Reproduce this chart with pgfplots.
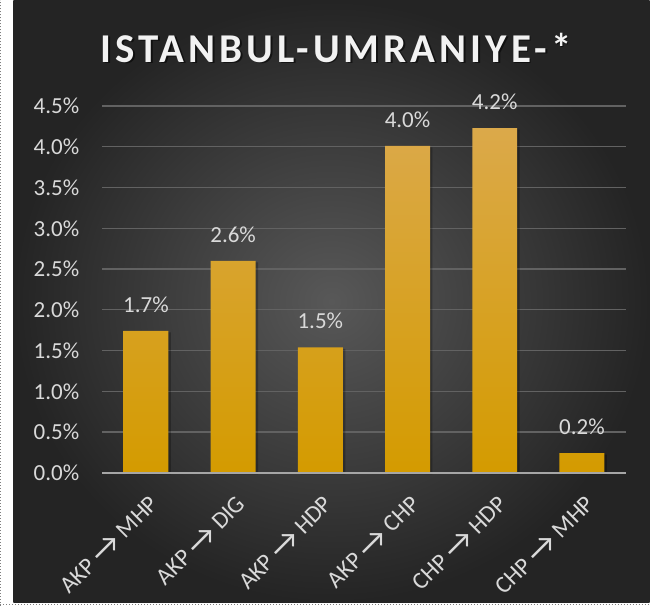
\documentclass[border=0pt]{standalone}
\usepackage{pgfplots}
\pgfplotsset{compat=1.18}
\usepackage{fontspec}
\setmainfont{Carlito}
\newfontfamily\titlefont[LetterSpace=10]{Carlito}
\newcommand{\arr}{\raisebox{-0.1em}{\scalebox{1.35}{→}}}
\definecolor{bgin}{RGB}{88,88,88}
\definecolor{bgout}{RGB}{36,36,36}
\definecolor{gridc}{RGB}{98,98,98}
\definecolor{basec}{RGB}{166,166,166}
\definecolor{txt}{RGB}{217,217,217}
\definecolor{bartop}{RGB}{219,169,74}
\definecolor{barbot}{RGB}{212,155,0}
\begin{document}
\begin{tikzpicture}[x=1pt,y=1pt]
\fill[white] (0,0) rectangle (650,606);
\shade[inner color=bgin, outer color=bgout] (13,3) rectangle (650,606);
\draw[gray, dotted, line width=1pt] (0.5,0)--(0.5,606);
\draw[gray, dotted, line width=1pt] (0,1.5)--(650,1.5);
\node[anchor=base, inner sep=0pt, text=black, opacity=0.55, font=\titlefont\bfseries\fontsize{41}{46}\selectfont] at (337.5,542.8) {ISTANBUL-UMRANIYE-*};
\node[anchor=base, inner sep=0pt, text=white!95!black, font=\titlefont\bfseries\fontsize{41}{46}\selectfont] at (336,544.3) {ISTANBUL-UMRANIYE-*};
\begin{axis}[
  at={(102pt,133pt)}, anchor=south west,
  scale only axis, width=524pt, height=367.3pt,
  xmin=-0.5, xmax=5.5, ymin=0, ymax=4.5,
  ytick={0,0.5,1,1.5,2,2.5,3,3.5,4,4.5},
  xtick={0,1,2,3,4,5},
  xticklabels={AKP \arr{} MHP, AKP \arr{} DIG, AKP \arr{} HDP, AKP \arr{} CHP, CHP \arr{} HDP, CHP \arr{} MHP},
  yticklabel={\pgfmathprintnumber{\tick}\%},
  /pgf/number format/.cd, fixed, fixed zerofill, precision=1, assume math mode=true, /pgfplots/.cd,
  axis line style={draw=none}, major tick length=0pt,
  ymajorgrids, grid style={gridc, line width=1.2pt},
  tick label style={font=\fontsize{23}{27}\selectfont, text=txt},
  yticklabel style={anchor=east, inner sep=0pt, xshift=-23pt},
  xticklabel style={font=\fontsize{24}{28}\selectfont, xshift=2pt, yshift=-21pt, rotate=45, anchor=north east, inner sep=0pt},
  clip=false,
]
\addplot[ybar, bar width=45pt, bar shift=0pt, draw=none, fill=black, fill opacity=0.25, xshift=2.5pt, yshift=-1.5pt]
  coordinates {(0,1.74) (1,2.60) (2,1.54) (3,4.01) (4,4.23) (5,0.24)};
\addplot[ybar, bar width=45pt, bar shift=0pt, draw=none, top color=bartop, bottom color=barbot,
  nodes near coords={\pgfmathprintnumber{\pgfplotspointmeta}\%},
  nodes near coords style={font=\fontsize{23}{27}\selectfont, text=txt, anchor=south, inner sep=0pt, yshift=18pt}]
  coordinates {(0,1.74) (1,2.60) (2,1.54) (3,4.01) (4,4.23) (5,0.24)};
\draw[basec, line width=2.5pt] (axis cs:-0.5,0) -- (axis cs:5.5,0);
\end{axis}
\end{tikzpicture}
\end{document}
